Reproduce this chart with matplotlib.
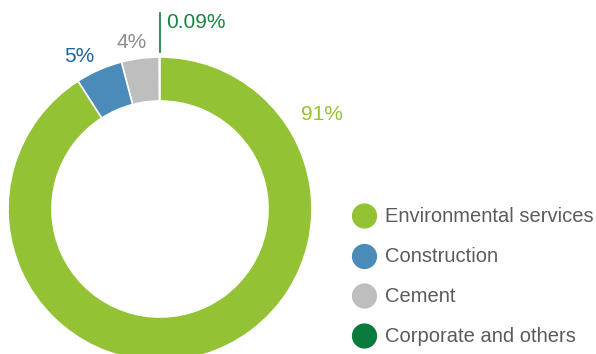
import matplotlib.pyplot as plt

plt.rcParams['font.family'] = ['Liberation Sans', 'DejaVu Sans']

# revenue share by segment
segments = ['Environmental services', 'Construction', 'Cement', 'Corporate and others']
shares = [91, 5, 4, 0.09]
labels = ['91%', '5%', '4%', '0.09%']
wedge_colors = ['#93c335', '#4b8bb9', '#bdbebd', '#0b7a3d']
label_colors = ['#93c335', '#1d62a2', '#8d8d8d', '#178443']

W, H = 596, 354
fig = plt.figure(figsize=(W / 100, H / 100), dpi=100)
ax = fig.add_axes([0, 0, 1, 1])

cx, cy, R, ring = 160, H - 209, 152, 44

# pie goes counter-clockwise from the top: corporate, cement, construction, environmental
order = [3, 2, 1, 0]
ax.pie([shares[i] for i in order], colors=[wedge_colors[i] for i in order],
       startangle=90, counterclock=True, center=(cx, cy), radius=R,
       wedgeprops=dict(width=ring, edgecolor='white', linewidth=1.2),
       frame=True)
ax.set_xlim(0, W)
ax.set_ylim(0, H)
ax.set_aspect('equal')
ax.axis('off')

# leader line for the tiny corporate slice
ax.plot([cx, cx], [H - 13, H - 52], color=wedge_colors[3], lw=1.2)

label_pos = [(322, 115), (79, 57), (132, 42), (196, 23)]
for lab, col, (px, py) in zip(labels, label_colors, label_pos):
    ax.text(px, H - py, lab, color=col, fontsize=15, ha='center', va='center')

# legend
legend_y = [216, 256.5, 296, 336]
for name, col, py in zip(segments, wedge_colors, legend_y):
    ax.scatter([364.5], [H - py], s=330, color=col, edgecolors='none')
    ax.text(385, H - py, name, color='#5b5b5b', fontsize=14.5, ha='left', va='center')

fig.savefig('out.png', dpi=100)
